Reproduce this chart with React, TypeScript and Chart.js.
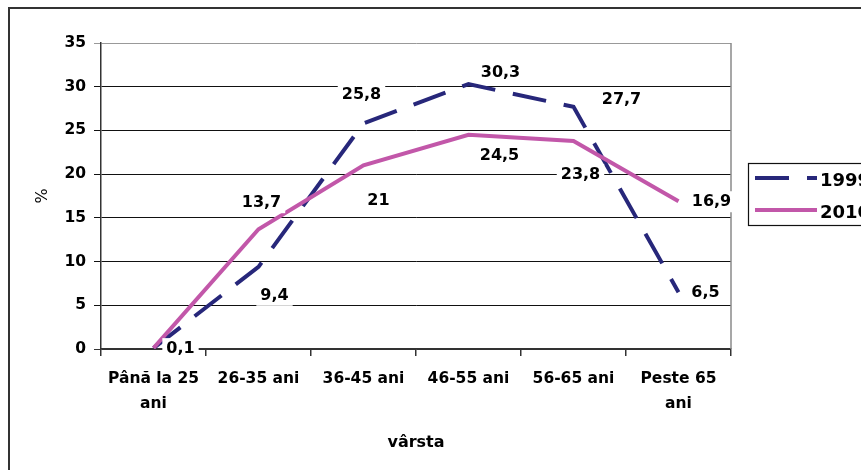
import React, { useEffect, useRef } from "react";
import { Chart, registerables } from "chart.js";

Chart.register(...registerables);

const categories: (string | string[])[] = [
  ["Până la 25", "ani"],
  "26-35 ani",
  "36-45 ani",
  "46-55 ani",
  "56-65 ani",
  ["Peste 65", "ani"],
];
const series1999 = [0.1, 9.4, 25.8, 30.3, 27.7, 6.5];
const series2010 = [0.1, 13.7, 21, 24.5, 23.8, 16.9];
const labels1999 = ["0,1", "9,4", "25,8", "30,3", "27,7", "6,5"];
const labels2010 = ["", "13,7", "21", "24,5", "23,8", "16,9"];
const seriesNames = ["1999", "2010"];
const yTicks = [0, 5, 10, 15, 20, 25, 30, 35];
const xTitle = "vârsta";
const yTitle = "%";

// label placement offsets (style only)
const off1999 = [[27, 0], [16, 28], [-2, -30], [32, -12], [48, -8], [27, 0]];
const off2010 = [[27, 0], [3, -27], [15, 34], [31, 20], [7, 33], [33, 0]];

const NAVY = "#27277a";
const PINK = "#c257a9";
const FONT = "'DejaVu Sans', sans-serif";

const decorPlugin = {
  id: "decor",
  beforeDraw(chart: any) {
    const ctx = chart.ctx;
    ctx.save();
    ctx.fillStyle = "#fff";
    ctx.fillRect(0, 0, chart.width, chart.height);
    ctx.restore();
  },
  beforeDatasetsDraw(chart: any) {
    const { ctx, chartArea } = chart;
    ctx.save();
    ctx.strokeStyle = "#8a8a8a";
    ctx.lineWidth = 1.5;
    ctx.beginPath();
    ctx.moveTo(chartArea.right, chartArea.top);
    ctx.lineTo(chartArea.right, chartArea.bottom);
    ctx.stroke();
    ctx.restore();
  },
  afterDatasetsDraw(chart: any) {
    const { ctx } = chart;
    const sets = [
      { labels: labels1999, off: off1999 },
      { labels: labels2010, off: off2010 },
    ];
    ctx.save();
    ctx.font = `bold 16px ${FONT}`;
    ctx.textAlign = "center";
    ctx.textBaseline = "middle";
    sets.forEach((s, di) => {
      const meta = chart.getDatasetMeta(di);
      meta.data.forEach((pt: any, i: number) => {
        const txt = s.labels[i];
        if (!txt) return;
        const x = pt.x + s.off[i][0];
        const y = pt.y + s.off[i][1];
        const w = ctx.measureText(txt).width + 8;
        ctx.fillStyle = "#fff";
        ctx.fillRect(x - w / 2, y - 10, w, 21);
        ctx.fillStyle = "#000";
        ctx.fillText(txt, x, y + 1);
      });
    });
    ctx.restore();
  },
  afterDraw(chart: any) {
    const { ctx } = chart;
    ctx.save();
    // outer frame
    ctx.strokeStyle = "#333";
    ctx.lineWidth = 2;
    ctx.strokeRect(9, 8, 900, 500);
    // legend box
    ctx.lineWidth = 1.2;
    ctx.strokeStyle = "#111";
    ctx.strokeRect(748.5, 163.5, 200, 62);
    const rows = [178, 210];
    chart.data.datasets.forEach((ds: any, i: number) => {
      ctx.beginPath();
      ctx.strokeStyle = ds.borderColor;
      ctx.lineWidth = ds.borderWidth;
      ctx.setLineDash(ds.borderDash || []);
      ctx.lineCap = "butt";
      ctx.moveTo(755, rows[i]);
      ctx.lineTo(817, rows[i]);
      ctx.stroke();
      ctx.setLineDash([]);
      ctx.fillStyle = "#000";
      ctx.font = `bold 18px ${FONT}`;
      ctx.textBaseline = "middle";
      ctx.textAlign = "left";
      ctx.fillText(ds.label, 820, rows[i] + 3);
    });
    ctx.restore();
  },
};

export default function App() {
  const ref = useRef<HTMLCanvasElement>(null);
  useEffect(() => {
    document.body.style.margin = "0";
    const chart = new Chart(ref.current!, {
      type: "line",
      data: {
        labels: categories as any,
        datasets: [
          {
            label: seriesNames[0],
            data: series1999,
            borderColor: NAVY,
            borderWidth: 4,
            borderDash: [34, 18],
            pointRadius: 0,
            fill: false,
            tension: 0,
            order: 1,
          },
          {
            label: seriesNames[1],
            data: series2010,
            borderColor: PINK,
            borderWidth: 4,
            pointRadius: 0,
            fill: false,
            tension: 0,
            order: 0,
          },
        ],
      },
      options: {
        animation: false,
        responsive: false,
        devicePixelRatio: 1,
        layout: { padding: { top: 43, right: 130, left: 0, bottom: 0 } },
        plugins: { legend: { display: false }, tooltip: { enabled: false } },
        scales: {
          x: {
            type: "category",
            offset: true,
            afterFit: (s: any) => {
              s.height = 121;
            },
            grid: {
              offset: true,
              drawOnChartArea: false,
              drawTicks: true,
              tickLength: 7,
              color: "#333",
              lineWidth: 1.5,
            },
            border: { display: true, color: "#333", width: 1.5 },
            ticks: {
              color: "#000",
              font: { family: FONT, weight: "bold", size: 15.5, lineHeight: 1.62 },
              padding: 10,
              maxRotation: 0,
              autoSkip: false,
            },
            title: {
              display: true,
              text: xTitle,
              color: "#000",
              font: { family: FONT, weight: "bold", size: 16, lineHeight: 1.2 },
              padding: { top: 0, bottom: 18 },
            },
          },
          y: {
            min: 0,
            max: 35,
            afterFit: (s: any) => {
              s.width = 101;
            },
            afterBuildTicks: (s: any) => {
              s.ticks = yTicks.map((v) => ({ value: v }));
            },
            grid: {
              drawTicks: true,
              tickLength: 7,
              color: (c: any) =>
                c.tick && c.tick.value === 35 ? "#999" : c.tick && c.tick.value === 0 ? "#333" : "#111",
              lineWidth: 1,
            },
            border: { display: true, color: "#333", width: 1.5 },
            ticks: {
              color: "#000",
              font: { family: FONT, weight: "bold", size: 15.5 },
              padding: 8,
            },
            title: {
              display: true,
              text: yTitle,
              color: "#000",
              font: { family: FONT, size: 16, lineHeight: 1.2 },
              padding: { top: 33, bottom: 0 },
            },
          },
        },
      },
      plugins: [decorPlugin],
    });
    return () => chart.destroy();
  }, []);
  return <canvas ref={ref} width={861} height={470} style={{ display: "block" }} />;
}
